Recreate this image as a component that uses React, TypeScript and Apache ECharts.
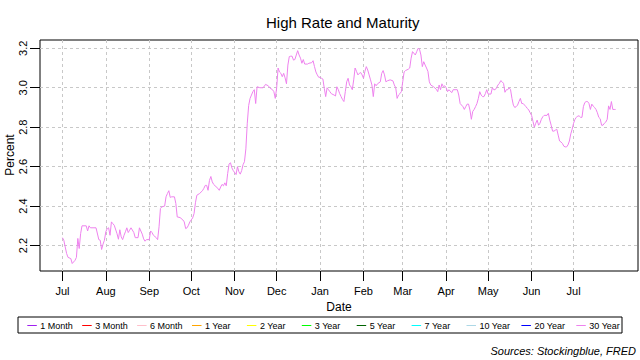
import React, { useEffect, useRef } from "react";
import * as echarts from "echarts";

// Series start date (day offsets below are counted from it)
const seriesStart = "2017-07-01";
const dayOffsets = [
  0, 1, 2, 3, 4, 6, 7, 9, 10, 11, 12, 13, 14, 17, 18, 19, 20, 24, 26, 27, 28, 29, 30,
  31, 32, 33, 34, 35, 36, 37, 39, 40, 41, 42, 43, 44, 45, 46, 47, 48, 49, 51, 52, 54, 55, 57, 58, 59, 60,
  62, 63, 64, 65, 67, 68, 69, 70, 71, 73, 74, 75, 76, 77, 78, 80, 81, 82, 84, 86, 87, 88, 89, 90, 91,
  92, 93, 94, 95, 96, 98, 100, 101, 102, 103, 104, 105, 106, 107, 108, 109, 111, 112, 113, 114, 115, 116, 117, 118, 119, 120, 121, 122,
  124, 125, 126, 127, 128, 129, 130, 131, 132, 133, 134, 135, 136, 137, 138, 139, 141, 143, 144, 145, 147, 148, 150, 151, 152,
  153, 154, 155, 156, 157, 158, 159, 160, 161, 162, 163, 164, 165, 166, 167, 168, 169, 170, 171, 172, 173, 175, 176, 178, 179, 180, 181, 182, 183,
  184, 185, 186, 187, 188, 189, 190, 191, 192, 194, 195, 196, 197, 198, 199, 200, 201, 202, 203, 204, 205, 206, 207, 208, 209, 210, 211, 212, 213, 214,
  215, 216, 217, 218, 219, 220, 221, 222, 223, 224, 225, 227, 228, 229, 230, 231, 232, 234, 236, 237, 238, 239, 240, 241, 242,
  243, 244, 245, 247, 248, 249, 250, 252, 253, 254, 255, 256, 257, 258, 259, 260, 261, 262, 263, 265, 267, 268, 269, 270, 271, 272, 273,
  274, 275, 276, 278, 279, 281, 282, 283, 284, 286, 287, 288, 289, 290, 291, 292, 293, 294, 295, 296, 297, 298, 299, 300, 301, 302, 303,
  304, 306, 307, 308, 309, 310, 311, 312, 313, 314, 315, 316, 317, 318, 319, 320, 321, 322, 323, 324, 325, 326, 327, 328, 329, 330, 331, 332, 333, 334,
  335, 336, 337, 338, 339, 340, 341, 342, 343, 344, 346, 347, 348, 349, 350, 351, 352, 353, 354, 355, 356, 357, 358, 359, 360, 361, 362, 363, 364,
  365, 366, 367, 368, 369, 370, 371, 372, 373, 374, 375, 376, 377, 378, 379, 380, 381, 382, 383, 384, 385, 386, 387, 388, 389, 390, 391, 392, 393, 394, 395,
];
const rates = [
  2.24, 2.227, 2.193, 2.16, 2.14, 2.134, 2.109, 2.125, 2.14, 2.236, 2.185, 2.26, 2.3, 2.3, 2.274, 2.3, 2.29, 2.29, 2.23, 2.227, 2.18, 2.207, 2.227,
  2.27, 2.286, 2.29, 2.252, 2.32, 2.311, 2.303, 2.26, 2.232, 2.28, 2.244, 2.23, 2.252, 2.27, 2.29, 2.266, 2.278, 2.29, 2.266, 2.24, 2.24, 2.29, 2.258, 2.234, 2.222, 2.23,
  2.23, 2.274, 2.266, 2.252, 2.24, 2.23, 2.295, 2.388, 2.396, 2.4, 2.447, 2.464, 2.478, 2.444, 2.447, 2.447, 2.413, 2.345, 2.342, 2.33, 2.32, 2.286, 2.29, 2.303, 2.32,
  2.33, 2.34, 2.362, 2.417, 2.455, 2.464, 2.478, 2.49, 2.505, 2.505, 2.48, 2.53, 2.55, 2.523, 2.51, 2.503, 2.49, 2.48, 2.497, 2.51, 2.503, 2.518, 2.503, 2.565, 2.613, 2.62, 2.594, 2.58,
  2.56, 2.6, 2.574, 2.562, 2.58, 2.61, 2.625, 2.69, 2.82, 2.91, 2.946, 2.963, 2.98, 2.99, 2.92, 3.005, 3.0, 3.0, 3.005, 3.017, 3.01, 3.0, 2.99, 2.98, 2.946,
  3.0, 3.1, 3.08, 3.073, 3.056, 3.073, 3.05, 3.02, 3.115, 3.158, 3.16, 3.16, 3.14, 3.143, 3.166, 3.188, 3.166, 3.15, 3.124, 3.143, 3.12, 3.12, 3.124, 3.127, 3.137, 3.107, 3.08, 3.065, 3.053,
  3.053, 3.048, 3.044, 2.997, 2.955, 3.0, 2.99, 2.98, 2.97, 2.963, 2.958, 3.005, 2.99, 2.97, 2.955, 2.94, 2.93, 2.98, 3.03, 3.048, 3.014, 3.005, 2.99, 3.04, 3.1, 3.083, 3.065, 3.073, 3.077, 3.065,
  3.048, 3.083, 3.107, 3.09, 3.065, 3.04, 3.014, 2.955, 3.02, 3.01, 3.02, 3.03, 3.073, 3.087, 3.065, 3.03, 3.035, 3.04, 3.035, 3.014, 3.0, 2.946, 2.963, 2.97, 2.98,
  3.03, 3.08, 3.087, 3.094, 3.1, 3.15, 3.183, 3.166, 3.183, 3.2, 3.195, 3.166, 3.107, 3.132, 3.115, 3.1, 3.083, 3.03, 3.014, 3.005, 2.992, 2.98, 3.014, 2.99, 3.02, 3.005, 3.01,
  3.0, 2.98, 2.99, 2.975, 2.99, 2.99, 2.99, 2.963, 2.92, 2.904, 2.89, 2.904, 2.917, 2.917, 2.887, 2.84, 2.88, 2.89, 2.904, 2.92, 2.946, 2.98, 2.963, 2.955, 2.955, 2.97, 2.99,
  2.968, 2.968, 3.0, 2.99, 2.99, 3.0, 3.014, 3.022, 3.036, 3.03, 3.022, 2.977, 2.99, 2.99, 3.0, 2.99, 2.946, 2.912, 2.9, 2.904, 2.912, 2.93, 2.946, 2.92, 2.92, 2.912, 2.904, 2.895, 2.887, 2.873,
  2.86, 2.83, 2.8, 2.82, 2.836, 2.81, 2.82, 2.84, 2.853, 2.86, 2.86, 2.87, 2.836, 2.81, 2.78, 2.78, 2.785, 2.79, 2.76, 2.73, 2.725, 2.718, 2.704, 2.7, 2.7, 2.71, 2.73, 2.766, 2.79,
  2.82, 2.84, 2.85, 2.857, 2.857, 2.85, 2.85, 2.904, 2.925, 2.93, 2.93, 2.92, 2.89, 2.917, 2.907, 2.9, 2.89, 2.873, 2.85, 2.843, 2.81, 2.81, 2.82, 2.826, 2.84, 2.908, 2.89, 2.93, 2.89, 2.89, 2.89,
];

const monthTickDates = [
  "2017-07-01", "2017-08-01", "2017-09-01", "2017-10-01", "2017-11-01", "2017-12-01", "2018-01-01",
  "2018-02-01", "2018-03-01", "2018-04-01", "2018-05-01", "2018-06-01", "2018-07-01",
];
const monthTickLabels = ["Jul", "Aug", "Sep", "Oct", "Nov", "Dec", "Jan", "Feb", "Mar", "Apr", "May", "Jun", "Jul"];
const xAxisRange = ["2017-06-15", "2018-08-16"];
const yTicks = [2.2, 2.4, 2.6, 2.8, 3.0, 3.2];
const yAxisRange = [2.071, 3.242];

const maturities = ["1 Month", "3 Month", "6 Month", "1 Year", "2 Year", "3 Year", "5 Year", "7 Year", "10 Year", "20 Year", "30 Year"];
const maturityColors = ["#A020F0", "#FF0000", "#FFC0CB", "#FFA500", "#FFFF00", "#00FF00", "#006400", "#00FFFF", "#ADD8E6", "#0000FF", "#EE82EE"];
const shownSeries = "30 Year";

const FONT = '"Liberation Sans", Arial, sans-serif';

function toTime(s: string): number {
  const [y, m, d] = s.split("-").map(Number);
  return Date.UTC(y, m - 1, d);
}

export default function App() {
  const ref = useRef<HTMLDivElement>(null);
  useEffect(() => {
    if (!ref.current) return;
    const chart = echarts.init(ref.current, null, { renderer: "svg" });
    const [sy, sm, sd] = seriesStart.split("-").map(Number);
    const data = dayOffsets.map((d, i) => [Date.UTC(sy, sm - 1, sd + d), rates[i]]);
    const tickTimes = monthTickDates.map(toTime);
    const lineColor = maturityColors[maturities.indexOf(shownSeries)];

    const legendLeft = 18;
    const legendTop = 317;
    const legendGraphics: any[] = [
      {
        type: "rect",
        shape: { x: legendLeft, y: legendTop, width: 604, height: 16 },
        style: { fill: "#fff", stroke: "#000", lineWidth: 1 },
      },
    ];
    maturities.forEach((name, i) => {
      const x0 = 27.3 + i * 54.9;
      legendGraphics.push({
        type: "line",
        shape: { x1: x0, y1: 325.5, x2: x0 + 9.5, y2: 325.5 },
        style: { stroke: maturityColors[i], lineWidth: 1 },
      });
      legendGraphics.push({
        type: "text",
        x: x0 + 13,
        y: 326,
        style: { text: name, font: `9px ${FONT}`, fill: "#000", verticalAlign: "middle", align: "left" },
      });
    });

    chart.setOption({
      animation: false,
      backgroundColor: "#fff",
      title: {
        text: "High Rate and Maturity",
        left: 261,
        top: 10,
        textStyle: { fontFamily: FONT, fontSize: 15, fontWeight: "normal", color: "#000" },
      },
      grid: {
        left: 40,
        right: 2,
        top: 40,
        bottom: 89,
        containLabel: false,
        outerBoundsMode: "none",
        show: true,
        borderColor: "#000",
        borderWidth: 1,
        backgroundColor: "transparent",
      },
      xAxis: {
        type: "value",
        min: toTime(xAxisRange[0]),
        max: toTime(xAxisRange[1]),
        name: "Date",
        nameLocation: "middle",
        nameGap: 30,
        nameMoveOverlap: false,
        nameTextStyle: { fontFamily: FONT, fontSize: 12, color: "#000" },
        axisLine: { show: false },
        axisTick: { show: true, length: 10, lineStyle: { color: "#000" }, customValues: tickTimes },
        axisLabel: {
          customValues: tickTimes,
          margin: 14,
          fontFamily: FONT,
          fontSize: 11,
          color: "#000",
          hideOverlap: false,
          formatter: (v: number) => {
            const idx = tickTimes.indexOf(v);
            return idx >= 0 ? monthTickLabels[idx] : "";
          },
        },
        splitLine: { show: true, lineStyle: { color: "#c8c8c8", type: [3, 3], width: 1 } },
      },
      yAxis: {
        type: "value",
        min: yAxisRange[0],
        max: yAxisRange[1],
        axisLine: { show: false },
        axisTick: { show: true, length: 10, lineStyle: { color: "#000" }, customValues: yTicks },
        axisLabel: {
          customValues: yTicks,
          rotate: 90,
          margin: 12,
          fontFamily: FONT,
          fontSize: 11,
          color: "#000",
          formatter: (v: number) => v.toFixed(1),
        },
        splitLine: { show: true, lineStyle: { color: "#c8c8c8", type: [3, 3], width: 1 } },
      },
      series: [
        {
          name: shownSeries,
          type: "line",
          data,
          showSymbol: false,
          symbol: "none",
          lineStyle: { color: lineColor, width: 1 },
          itemStyle: { color: lineColor },
          clip: true,
        },
      ],
      graphic: [
        ...legendGraphics,
        {
          type: "text",
          x: 10,
          y: 155,
          rotation: Math.PI / 2,
          style: { text: "Percent", font: `12px ${FONT}`, fill: "#000", align: "center", verticalAlign: "middle" },
        },
        {
          type: "text",
          right: 4,
          top: 345,
          style: { text: "Sources: Stockingblue, FRED", font: `italic 11px ${FONT}`, fill: "#000" },
        },
      ],
    });
    return () => chart.dispose();
  }, []);
  return <div ref={ref} style={{ position: "absolute", left: 0, top: 0, width: 640, height: 360 }} />;
}
